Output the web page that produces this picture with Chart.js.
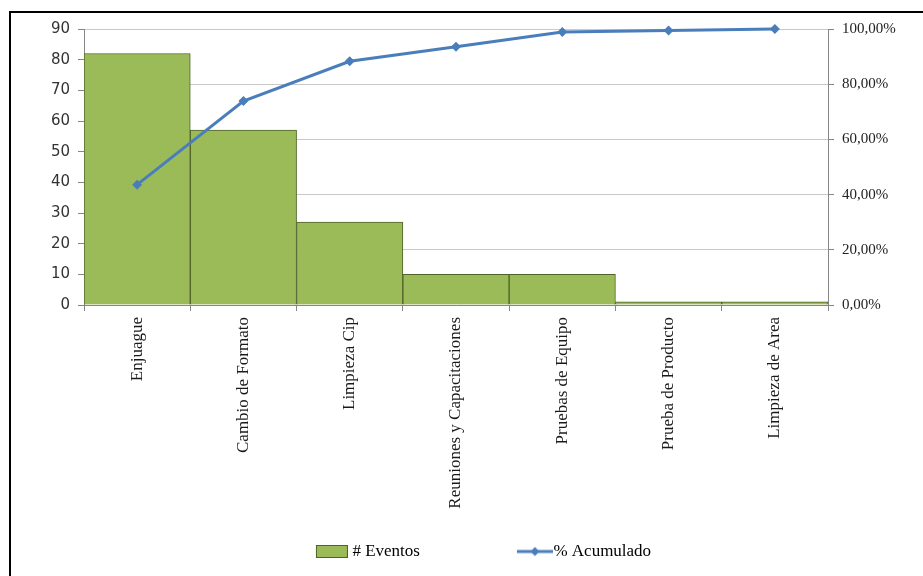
<!DOCTYPE html>
<html>
<head>
<meta charset="utf-8">
<script src="https://cdn.jsdelivr.net/npm/chart.js@4.4.1/dist/chart.umd.min.js"></script>
<style>
  body { margin: 0; background: #fff; }
  #wrap { position: relative; width: 923px; height: 576px; overflow: hidden; }
  #frame { position: absolute; left: 9px; top: 11px; width: 960px; height: 620px;
           border-left: 2px solid #000; border-top: 2px solid #000; pointer-events: none; }
  canvas { position: absolute; left: 0; top: 0; }
</style>
</head>
<body>
<div id="wrap">
  <canvas id="pareto" width="923" height="576"></canvas>
  <div id="frame"></div>
</div>
<script>
const categories = [
  'Enjuague',
  'Cambio de Formato',
  'Limpieza Cip',
  'Reuniones y Capacitaciones',
  'Pruebas de Equipo',
  'Prueba de Producto',
  'Limpieza de Area',
]
const eventos = [82, 57, 27, 10, 10, 1, 1]
const acumulado = [43.6, 73.9, 88.3, 93.6, 98.9, 99.5, 100]
const leftTicks = [0, 10, 20, 30, 40, 50, 60, 70, 80, 90]
const rightTicks = [0, 20, 40, 60, 80, 100]

const green = '#9bbb59'
const greenDark = '#4f6228'
const blue = '#4a7ebb'

// iconos de la leyenda (con margen transparente a la izquierda para acercar el texto)
function barIcon() {
  const c = document.createElement('canvas')
  c.width = 36
  c.height = 13
  const g = c.getContext('2d')
  g.fillStyle = green
  g.fillRect(4.5, 0.5, 31, 12)
  g.strokeStyle = greenDark
  g.lineWidth = 1
  g.strokeRect(4.5, 0.5, 31, 12)
  return c
}

function lineIcon() {
  const c = document.createElement('canvas')
  c.width = 44
  c.height = 12
  const g = c.getContext('2d')
  g.strokeStyle = blue
  g.lineWidth = 3
  g.beginPath()
  g.moveTo(8, 6)
  g.lineTo(44, 6)
  g.stroke()
  g.fillStyle = blue
  g.beginPath()
  g.moveTo(26, 1.5)
  g.lineTo(30.5, 6)
  g.lineTo(26, 10.5)
  g.lineTo(21.5, 6)
  g.closePath()
  g.fill()
  return c
}

const serif = "'Liberation Serif', 'Times New Roman', serif"
const sans = "'DejaVu Sans', sans-serif"

// desplaza la leyenda a la derecha y deja que las etiquetas largas del eje X no se recorten
const layoutTweaks = {
  id: 'layoutTweaks',
  afterLayout(chart) {
    chart.legend.left += 22
    chart.legend.right += 22
    chart.scales.x.bottom = chart.height
  },
}

new Chart(document.getElementById('pareto'), {
  data: {
    labels: categories,
    datasets: [
      {
        type: 'line',
        label: '% Acumulado',
        data: acumulado,
        yAxisID: 'y1',
        borderColor: blue,
        backgroundColor: blue,
        borderWidth: 3,
        pointStyle: 'rectRot',
        pointRadius: 5,
        pointBorderWidth: 0,
        tension: 0,
        clip: false,
        order: 0,
      },
      {
        type: 'bar',
        label: '# Eventos',
        data: eventos,
        yAxisID: 'y',
        backgroundColor: green,
        borderColor: greenDark,
        borderWidth: 1,
        categoryPercentage: 1,
        barPercentage: 1,
        order: 1,
      },
    ],
  },
  options: {
    responsive: false,
    animation: false,
    layout: { padding: { top: 29, left: 0, right: 0, bottom: 6 } },
    scales: {
      x: {
        grid: { offset: true, drawOnChartArea: false, tickLength: 6, color: '#868686' },
        border: { color: '#868686' },
        ticks: {
          minRotation: 90,
          maxRotation: 90,
          padding: 6,
          color: '#1a1a1a',
          font: { family: serif, size: 17 },
        },
        afterFit: scale => { scale.height = 141 },
      },
      y: {
        position: 'left',
        min: 0,
        max: 90,
        afterBuildTicks: scale => { scale.ticks = leftTicks.map(v => ({ value: v })) },
        grid: { drawOnChartArea: false, tickLength: 6, color: '#868686' },
        border: { color: '#868686' },
        ticks: { padding: 8, color: '#333', font: { family: sans, size: 15 } },
        afterFit: scale => { scale.width = 84 },
      },
      y1: {
        position: 'right',
        min: 0,
        max: 100,
        afterBuildTicks: scale => { scale.ticks = rightTicks.map(v => ({ value: v })) },
        grid: { color: '#c9c9c9', tickLength: 6, tickColor: '#868686' },
        border: { color: '#868686' },
        ticks: {
          padding: 8,
          color: '#222',
          font: { family: serif, size: 15 },
          callback: v => v.toFixed(2).replace('.', ',') + '%',
        },
        afterFit: scale => { scale.width = 95 },
      },
    },
    plugins: {
      tooltip: { enabled: false },
      legend: {
        position: 'bottom',
        labels: {
          usePointStyle: true,
          pointStyleWidth: 28,
          padding: 97,
          color: '#222',
          font: { family: serif, size: 17 },
          generateLabels: () => [
            { text: '# Eventos', pointStyle: barIcon(), datasetIndex: 1, hidden: false, lineWidth: 0 },
            { text: '% Acumulado', pointStyle: lineIcon(), datasetIndex: 0, hidden: false, lineWidth: 0 },
          ],
        },
      },
    },
  },
  plugins: [layoutTweaks],
})
</script>
</body>
</html>
